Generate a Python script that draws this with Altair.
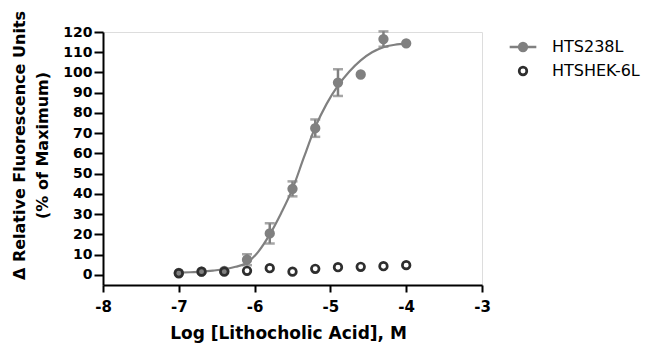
import altair as alt
import pandas as pd

# ---- data ----
series_names = ["HTS238L", "HTSHEK-6L"]
log_conc = [-7.0, -6.7, -6.4, -6.1, -5.8, -5.5, -5.2, -4.9, -4.6, -4.3, -4.0]
hts_mean = [1.0, 1.6, 2.0, 7.5, 20.5, 42.5, 72.5, 95.0, 99.0, 116.5, 114.4]
hts_sem = [0.0, 0.0, 0.0, 2.7, 5.0, 3.7, 4.3, 6.6, 0.0, 3.8, 0.0]
hek_mean = [0.8, 1.6, 1.6, 2.0, 3.3, 1.6, 3.0, 3.8, 4.0, 4.3, 4.8]

curve_x = [-7.0, -6.85, -6.7, -6.55, -6.4, -6.25, -6.1, -5.95, -5.8, -5.65, -5.5,
           -5.35, -5.2, -5.05, -4.9, -4.75, -4.6, -4.45, -4.3, -4.15, -4.0]
curve_y = [1.1, 1.3, 1.6, 2.1, 2.8, 4.0, 6.0, 11.5, 20.0, 30.5, 42.5,
           58.0, 73.0, 84.5, 93.5, 100.5, 106.0, 110.0, 112.5, 113.7, 114.4]

x_ticks = [-8, -7, -6, -5, -4, -3]
y_ticks = list(range(0, 121, 10))

GRAY = "#808080"
DARK = "#2e2e2e"
FONT = "DejaVu Sans"

points = pd.DataFrame(
    {"x": log_conc + log_conc,
     "y": hts_mean + hek_mean,
     "series": [series_names[0]] * len(log_conc) + [series_names[1]] * len(log_conc)}
)
err = pd.DataFrame({"x": log_conc, "mean": hts_mean, "sem": hts_sem})
err = err[err["sem"] > 0].copy()
err["lo"] = err["mean"] - err["sem"]
err["hi"] = err["mean"] + err["sem"]
curve = pd.DataFrame({"x": curve_x, "y": curve_y})

xscale = alt.Scale(domain=[-8, -3], nice=False, zero=False)
yscale = alt.Scale(domain=[-5, 120], nice=False, zero=False)

hyphen_expr = "datum.value < 0 ? '-' + abs(datum.value) : '' + datum.value"

xaxis = alt.Axis(values=x_ticks, title="Log [Lithocholic Acid], M", grid=False,
                 labelExpr=hyphen_expr, labelOverlap=False,
                 labelFont=FONT, labelFontSize=15, labelFontWeight="bold", labelColor="black",
                 titleFont=FONT, titleFontSize=17, titleFontWeight="bold", titleColor="black",
                 titleX=185,
                 domainColor="black", domainWidth=2, tickColor="black", tickWidth=2,
                 tickSize=7, labelPadding=7, titlePadding=11, labelFlush=False)
yaxis = alt.Axis(values=y_ticks, title=["Δ Relative Fluorescence Units", "(% of Maximum)"],
                 grid=False, labelOverlap=False,
                 labelFont=FONT, labelFontSize=14, labelFontWeight="bold", labelColor="black",
                 titleFont=FONT, titleFontSize=16, titleFontWeight="bold", titleColor="black",
                 titleLineHeight=23, titleY=113,
                 domainColor="black", domainWidth=2, tickColor="black", tickWidth=2,
                 tickSize=9, labelPadding=2, titlePadding=12, labelFlush=False)

def X(field):
    return alt.X(field, type="quantitative", scale=xscale, axis=xaxis)

def Y(field):
    return alt.Y(field, type="quantitative", scale=yscale, axis=yaxis)

curve_layer = alt.Chart(curve).mark_line(color=GRAY, strokeWidth=2.2, interpolate="monotone").encode(
    x=X("x"), y=Y("y"))

err_rule = alt.Chart(err).mark_rule(color=GRAY, strokeWidth=2.5).encode(
    x=X("x"), y=Y("lo"), y2="hi:Q")
cap_lo = alt.Chart(err).mark_tick(color=GRAY, orient="horizontal", size=10, thickness=2.5).encode(
    x=X("x"), y=Y("lo"))
cap_hi = alt.Chart(err).mark_tick(color=GRAY, orient="horizontal", size=10, thickness=2.5).encode(
    x=X("x"), y=Y("hi"))

line_dot = "M-3.5,0H3.5M-1,0A1,1 0 1,0 1,0A1,1 0 1,0 -1,0"
legend = alt.Legend(title=None, orient="none", legendX=412, legendY=7,
                    labelFont=FONT, labelFontSize=16, labelColor="black",
                    labelOffset=21, rowPadding=4, symbolSize=58, symbolStrokeWidth=2.7)

fill_enc = alt.Fill("series:N", scale=alt.Scale(domain=series_names, range=[GRAY, "transparent"]),
                    legend=legend)
stroke_enc = alt.Stroke("series:N", scale=alt.Scale(domain=series_names, range=[GRAY, DARK]),
                        legend=legend)
shape_enc = alt.Shape("series:N", scale=alt.Scale(domain=series_names, range=[line_dot, "circle"]),
                      legend=legend)

point_layer = alt.Chart(points).mark_point(size=58, strokeWidth=2.7, opacity=1, shape="circle").encode(
    x=X("x"), y=Y("y"), fill=fill_enc, stroke=stroke_enc)

legend_layer = alt.Chart(points).transform_filter("false").mark_point(
    size=58, strokeWidth=2.7, opacity=1).encode(
    x=X("x"), y=Y("y"), fill=fill_enc, stroke=stroke_enc, shape=shape_enc)

chart = alt.layer(curve_layer, err_rule, cap_lo, cap_hi, point_layer, legend_layer).properties(
    width=379, height=253,
    autosize=alt.AutoSizeParams(type="none"),
    padding={"left": 95, "top": 24, "right": 173, "bottom": 62},
).configure_view(stroke=None).configure(background="white")

chart.save("out.html", embed_options={"renderer": "svg", "actions": False})
